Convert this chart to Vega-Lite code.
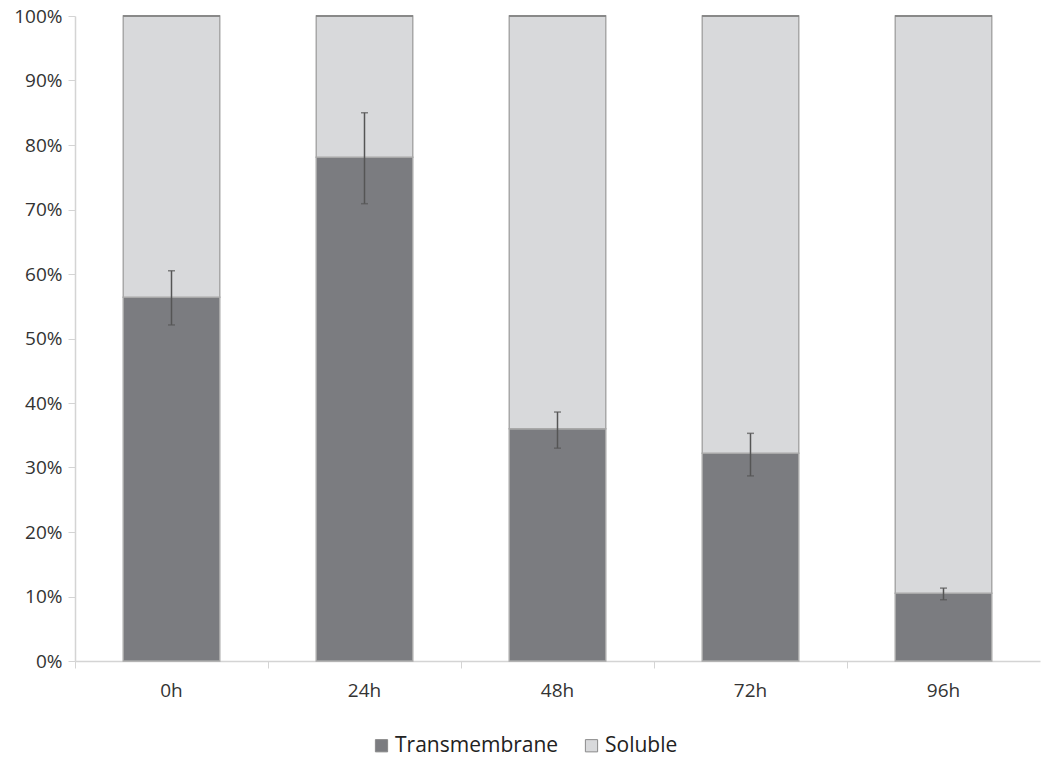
{
  "$schema": "https://vega.github.io/schema/vega-lite/v6.json",
  "width": 965,
  "height": 645,
  "autosize": "none",
  "padding": {"left": 75, "top": 16, "right": 10, "bottom": 101},
  "background": "white",
  "config": {"view": {"stroke": null}, "font": "Open Sans"},
  "datasets": {
    "bars": [
      {"time": "0h", "type": "Transmembrane", "value": 0.564},
      {"time": "0h", "type": "Soluble", "value": 0.436},
      {"time": "24h", "type": "Transmembrane", "value": 0.781},
      {"time": "24h", "type": "Soluble", "value": 0.219},
      {"time": "48h", "type": "Transmembrane", "value": 0.360},
      {"time": "48h", "type": "Soluble", "value": 0.640},
      {"time": "72h", "type": "Transmembrane", "value": 0.322},
      {"time": "72h", "type": "Soluble", "value": 0.678},
      {"time": "96h", "type": "Transmembrane", "value": 0.105},
      {"time": "96h", "type": "Soluble", "value": 0.895}
    ],
    "err": [
      {"time": "0h", "low": 0.521, "high": 0.605},
      {"time": "24h", "low": 0.709, "high": 0.850},
      {"time": "48h", "low": 0.330, "high": 0.386},
      {"time": "72h", "low": 0.287, "high": 0.353},
      {"time": "96h", "low": 0.095, "high": 0.113}
    ]
  },
  "layer": [
    {
      "data": {"name": "bars"},
      "mark": {"type": "bar", "stroke": "#a8a8a8", "strokeWidth": 1.5},
      "encoding": {
        "x": {
          "field": "time", "type": "nominal",
          "scale": {"domain": ["0h", "24h", "48h", "72h", "96h"], "paddingInner": 0.5, "paddingOuter": 0.25},
          "axis": {
            "title": null, "labelAngle": 0, "labelFontSize": 19, "labelColor": "#333",
            "labelPadding": 13, "domainColor": "#d4d4d4", "tickColor": "#d4d4d4", "tickSize": 7,
            "bandPosition": -0.5, "domainWidth": 1.5
          }
        },
        "y": {
          "field": "value", "type": "quantitative", "stack": "zero",
          "scale": {"domain": [0, 1], "nice": false},
          "axis": {
            "title": null, "format": ".0%", "values": [0, 0.1, 0.2, 0.3, 0.4, 0.5, 0.6, 0.7, 0.8, 0.9, 1],
            "grid": false, "labelFontSize": 19, "labelColor": "#333", "labelPadding": 6,
            "domainColor": "#d4d4d4", "tickColor": "#d4d4d4", "tickSize": 7, "domainWidth": 1.5
          }
        },
        "color": {
          "field": "type", "type": "nominal",
          "scale": {"domain": ["Transmembrane", "Soluble"], "range": ["#7b7c80", "#d8d9db"]},
          "legend": {
            "title": null, "orient": "none", "legendX": 296, "legendY": 719, "direction": "horizontal", "symbolType": "square",
            "symbolSize": 150, "symbolStrokeColor": "#8a8a8a", "symbolStrokeWidth": 1,
            "labelFontSize": 21, "labelColor": "#222", "labelLimit": 400, "labelOffset": 3, "columnPadding": 22
          }
        },
        "order": {"field": "type", "sort": "descending"}
      }
    },
    {
      "data": {"name": "bars"},
      "mark": {"type": "tick", "color": "#858585", "thickness": 2, "size": 97},
      "encoding": {
        "x": {"field": "time", "type": "nominal"},
        "y": {"datum": 1}
      }
    },
    {
      "data": {"name": "err"},
      "mark": {"type": "rule", "color": "#555", "strokeWidth": 1.5},
      "encoding": {
        "x": {"field": "time", "type": "nominal"},
        "y": {"field": "low", "type": "quantitative"},
        "y2": {"field": "high"}
      }
    },
    {
      "data": {"name": "err"},
      "mark": {"type": "tick", "color": "#555", "thickness": 1.5, "size": 7},
      "encoding": {
        "x": {"field": "time", "type": "nominal"},
        "y": {"field": "low", "type": "quantitative"}
      }
    },
    {
      "data": {"name": "err"},
      "mark": {"type": "tick", "color": "#555", "thickness": 1.5, "size": 7},
      "encoding": {
        "x": {"field": "time", "type": "nominal"},
        "y": {"field": "high", "type": "quantitative"}
      }
    }
  ]
}
